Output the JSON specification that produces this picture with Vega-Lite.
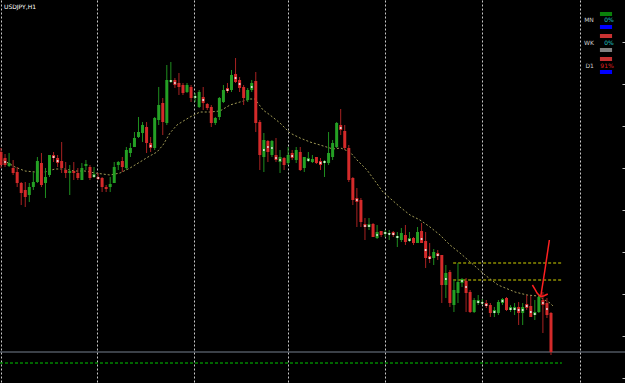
{
  "$schema": "https://vega.github.io/schema/vega-lite/v6.json",
  "width": 625,
  "height": 383,
  "autosize": {"type": "none"},
  "padding": 0,
  "background": "#000000",
  "config": {"view": {"stroke": null}},
  "datasets": {
    "candles": [
      {"t":0,"o":248,"h":252,"l":232,"c":235},{"t":1,"o":242,"h":246,"l":233,"c":235},{"t":2,"o":234,"h":247,"l":233,"c":237},{"t":3,"o":232,"h":240,"l":225,"c":227},
      {"t":4,"o":228,"h":233,"l":213,"c":217},{"t":5,"o":217,"h":218,"l":195,"c":207},{"t":6,"o":210,"h":218,"l":193,"c":203},{"t":7,"o":205,"h":217,"l":198,"c":213},
      {"t":8,"o":213,"h":228,"l":210,"c":218},{"t":9,"o":218,"h":243,"l":217,"c":239},{"t":10,"o":237,"h":247,"l":213,"c":215},{"t":11,"o":217,"h":232,"l":202,"c":223},
      {"t":12,"o":225,"h":245,"l":223,"c":245},{"t":13,"o":245,"h":248,"l":238,"c":242},{"t":14,"o":242,"h":245,"l":233,"c":237},{"t":15,"o":239,"h":258,"l":227,"c":232},
      {"t":16,"o":230,"h":238,"l":222,"c":227},{"t":17,"o":227,"h":235,"l":205,"c":229},{"t":18,"o":229,"h":238,"l":220,"c":227},{"t":19,"o":227,"h":232,"l":220,"c":222},
      {"t":20,"o":220,"h":237,"l":220,"c":232},{"t":21,"o":234,"h":240,"l":230,"c":236},{"t":22,"o":233,"h":235,"l":220,"c":222},{"t":23,"o":223,"h":233,"l":222,"c":226},
      {"t":24,"o":223,"h":227,"l":220,"c":221},{"t":25,"o":222,"h":223,"l":208,"c":213},{"t":26,"o":213,"h":215,"l":208,"c":211},{"t":27,"o":213,"h":223,"l":208,"c":216},
      {"t":28,"o":217,"h":238,"l":217,"c":233},{"t":29,"o":235,"h":239,"l":230,"c":238},{"t":30,"o":239,"h":243,"l":228,"c":233},{"t":31,"o":232,"h":253,"l":230,"c":250},
      {"t":32,"o":247,"h":257,"l":243,"c":252},{"t":33,"o":253,"h":268,"l":253,"c":262},{"t":34,"o":263,"h":283,"l":262,"c":268},{"t":35,"o":267,"h":278,"l":258,"c":275},
      {"t":36,"o":273,"h":278,"l":247,"c":257},{"t":37,"o":257,"h":263,"l":248,"c":252},{"t":38,"o":252,"h":283,"l":250,"c":282},{"t":39,"o":280,"h":313,"l":275,"c":295},
      {"t":40,"o":297,"h":302,"l":265,"c":278},{"t":41,"o":277,"h":335,"l":275,"c":320},{"t":42,"o":318,"h":338,"l":317,"c":320},{"t":43,"o":320,"h":322,"l":312,"c":315},
      {"t":44,"o":317,"h":327,"l":305,"c":313},{"t":45,"o":315,"h":317,"l":305,"c":307},{"t":46,"o":308,"h":317,"l":307,"c":315},{"t":47,"o":313,"h":315,"l":298,"c":302},
      {"t":48,"o":302,"h":307,"l":298,"c":304},{"t":49,"o":293,"h":310,"l":292,"c":308},{"t":50,"o":303,"h":313,"l":290,"c":297},{"t":51,"o":296,"h":297,"l":290,"c":292},
      {"t":52,"o":293,"h":295,"l":273,"c":277},{"t":53,"o":277,"h":283,"l":275,"c":282},{"t":54,"o":283,"h":303,"l":280,"c":302},{"t":55,"o":298,"h":315,"l":297,"c":310},
      {"t":56,"o":312,"h":317,"l":307,"c":309},{"t":57,"o":310,"h":330,"l":308,"c":325},{"t":58,"o":326,"h":342,"l":317,"c":318},{"t":59,"o":320,"h":323,"l":308,"c":312},
      {"t":60,"o":313,"h":315,"l":295,"c":302},{"t":61,"o":300,"h":312,"l":298,"c":310},{"t":62,"o":310,"h":320,"l":308,"c":317},{"t":63,"o":319,"h":328,"l":268,"c":277},
      {"t":64,"o":278,"h":280,"l":230,"c":245},{"t":65,"o":243,"h":267,"l":228,"c":260},{"t":66,"o":259,"h":260,"l":238,"c":248},{"t":67,"o":245,"h":260,"l":243,"c":259},
      {"t":68,"o":245,"h":262,"l":238,"c":240},{"t":69,"o":238,"h":250,"l":227,"c":243},{"t":70,"o":242,"h":243,"l":230,"c":235},{"t":71,"o":237,"h":253,"l":235,"c":245},
      {"t":72,"o":247,"h":250,"l":240,"c":242},{"t":73,"o":240,"h":253,"l":237,"c":250},{"t":74,"o":248,"h":253,"l":229,"c":230},{"t":75,"o":232,"h":243,"l":228,"c":243},
      {"t":76,"o":239,"h":248,"l":238,"c":242},{"t":77,"o":238,"h":245,"l":237,"c":241},{"t":78,"o":243,"h":243,"l":236,"c":237},{"t":79,"o":239,"h":242,"l":230,"c":235},
      {"t":80,"o":237,"h":240,"l":223,"c":239},{"t":81,"o":237,"h":268,"l":235,"c":247},{"t":82,"o":243,"h":260,"l":240,"c":257},{"t":83,"o":253,"h":278,"l":252,"c":277},
      {"t":84,"o":275,"h":291,"l":265,"c":270},{"t":85,"o":269,"h":275,"l":250,"c":252},{"t":86,"o":252,"h":255,"l":218,"c":220},{"t":87,"o":222,"h":223,"l":195,"c":200},
      {"t":88,"o":202,"h":212,"l":173,"c":198},{"t":89,"o":200,"h":202,"l":173,"c":178},{"t":90,"o":176,"h":182,"l":160,"c":173},{"t":91,"o":173,"h":182,"l":170,"c":176},
      {"t":92,"o":176,"h":177,"l":163,"c":163},{"t":93,"o":162,"h":175,"l":161,"c":168},{"t":94,"o":169,"h":169,"l":163,"c":165},{"t":95,"o":166,"h":170,"l":163,"c":168},
      {"t":96,"o":166,"h":170,"l":160,"c":167},{"t":97,"o":168,"h":169,"l":163,"c":165},{"t":98,"o":162,"h":168,"l":153,"c":164},{"t":99,"o":160,"h":172,"l":158,"c":167},
      {"t":100,"o":165,"h":175,"l":155,"c":158},{"t":101,"o":159,"h":168,"l":158,"c":162},{"t":102,"o":162,"h":163,"l":155,"c":157},{"t":103,"o":157,"h":173,"l":157,"c":168},
      {"t":104,"o":169,"h":177,"l":157,"c":157},{"t":105,"o":159,"h":168,"l":132,"c":142},{"t":106,"o":144,"h":157,"l":137,"c":141},{"t":107,"o":142,"h":151,"l":135,"c":148},
      {"t":108,"o":147,"h":150,"l":140,"c":144},{"t":109,"o":145,"h":145,"l":97,"c":115},{"t":110,"o":115,"h":135,"l":102,"c":127},{"t":111,"o":128,"h":130,"l":93,"c":97},
      {"t":112,"o":95,"h":120,"l":88,"c":110},{"t":113,"o":107,"h":137,"l":97,"c":118},{"t":114,"o":117,"h":122,"l":113,"c":121},{"t":115,"o":119,"h":122,"l":88,"c":107},
      {"t":116,"o":108,"h":110,"l":87,"c":88},{"t":117,"o":88,"h":102,"l":87,"c":100},{"t":118,"o":97,"h":105,"l":95,"c":100},{"t":119,"o":97,"h":101,"l":95,"c":98},
      {"t":120,"o":97,"h":100,"l":92,"c":94},{"t":121,"o":95,"h":97,"l":83,"c":87},{"t":122,"o":87,"h":93,"l":83,"c":90},{"t":123,"o":87,"h":100,"l":85,"c":98},
      {"t":124,"o":97,"h":102,"l":95,"c":101},{"t":125,"o":102,"h":103,"l":89,"c":90},{"t":126,"o":90,"h":95,"l":88,"c":93},{"t":127,"o":90,"h":97,"l":85,"c":93},
      {"t":128,"o":93,"h":98,"l":75,"c":87},{"t":129,"o":87,"h":97,"l":75,"c":93},{"t":130,"o":96,"h":105,"l":90,"c":92},{"t":131,"o":94,"h":104,"l":83,"c":83},
      {"t":132,"o":85,"h":100,"l":80,"c":88},{"t":133,"o":88,"h":105,"l":87,"c":103},{"t":134,"o":100,"h":108,"l":67,"c":95},{"t":135,"o":97,"h":102,"l":82,"c":85},
      {"t":136,"o":87,"h":88,"l":45,"c":48}
    ],
    "dots": [
      {"t":1,"p":238},{"t":13,"p":243},{"t":14,"p":239},{"t":23,"p":224},{"t":24,"p":222},{"t":37,"p":254},{"t":42,"p":319},{"t":43,"p":317},
      {"t":48,"p":303},{"t":50,"p":300},{"t":56,"p":310},{"t":58,"p":322},{"t":59,"p":316},{"t":62,"p":313},{"t":65,"p":250},{"t":66,"p":253},
      {"t":67,"p":252},{"t":68,"p":242},{"t":69,"p":240},{"t":72,"p":244},{"t":76,"p":240},{"t":79,"p":237},{"t":80,"p":238},{"t":84,"p":272},
      {"t":88,"p":200},{"t":90,"p":174},{"t":91,"p":174},{"t":93,"p":165},{"t":95,"p":167},{"t":96,"p":166},{"t":97,"p":166},{"t":98,"p":163},
      {"t":101,"p":160},{"t":104,"p":161},{"t":105,"p":150},{"t":106,"p":142},{"t":108,"p":145},{"t":110,"p":121},{"t":114,"p":119},{"t":115,"p":113},
      {"t":118,"p":98},{"t":119,"p":97},{"t":120,"p":95},{"t":122,"p":88},{"t":124,"p":99},{"t":126,"p":91},{"t":127,"p":91},{"t":128,"p":90},
      {"t":129,"p":90},{"t":130,"p":94},{"t":131,"p":88},{"t":132,"p":86},{"t":134,"p":97},{"t":135,"p":91}
    ],
    "ma": [
      {"t":-0.25,"p":242},{"t":3.46,"p":233},{"t":5.93,"p":229},{"t":8.41,"p":228},{"t":10.88,"p":228},{"t":13.35,"p":231},{"t":15.83,"p":231},
      {"t":18.3,"p":229},{"t":20.77,"p":229},{"t":23.24,"p":227},{"t":26.95,"p":225},{"t":29.43,"p":227},{"t":31.9,"p":232},{"t":34.37,"p":238},
      {"t":36.35,"p":243},{"t":38.58,"p":248},{"t":40.06,"p":255},{"t":41.79,"p":267},{"t":43.52,"p":275},{"t":45.5,"p":280},{"t":46.74,"p":283},
      {"t":49.21,"p":288},{"t":51.68,"p":288},{"t":54.15,"p":289},{"t":56.63,"p":295},{"t":59.1,"p":298},{"t":61.57,"p":301},{"t":62.81,"p":301},
      {"t":64.79,"p":290},{"t":66.52,"p":285},{"t":68.99,"p":277},{"t":71.46,"p":267},{"t":73.94,"p":262},{"t":76.41,"p":258},{"t":78.88,"p":255},
      {"t":82.1,"p":251},{"t":84.0,"p":252},{"t":86.3,"p":248},{"t":88.03,"p":240},{"t":90.5,"p":230},{"t":94.46,"p":208},{"t":98.66,"p":193},
      {"t":101.14,"p":185},{"t":103.6,"p":180},{"t":106.08,"p":173},{"t":108.56,"p":165},{"t":111.03,"p":155},{"t":113.5,"p":147},{"t":115.48,"p":140},
      {"t":119.68,"p":125},{"t":122.9,"p":115},{"t":127.1,"p":108},{"t":130.07,"p":105},{"t":132.79,"p":104},{"t":135.76,"p":97},{"t":136.5,"p":94}
    ],
    "levels": [
      {"kind":"bid","t":-1,"t2":160,"p":48},
      {"kind":"green","t":-0.25,"t2":138.7,"p":37},
      {"kind":"yellow","t":111.8,"t2":138.7,"p":137},
      {"kind":"yellow","t":111.8,"t2":138.7,"p":120}
    ],
    "arrow": [
      {"seg":"a","i":0,"t":135.6,"p":160},{"seg":"a","i":1,"t":134.5,"p":130},{"seg":"a","i":2,"t":133.46,"p":103.3},
      {"seg":"b","i":0,"t":131.4,"p":115},{"seg":"b","i":1,"t":132.05,"p":110.7},{"seg":"b","i":2,"t":132.6,"p":106.7},{"seg":"b","i":3,"t":133.46,"p":103.3},{"seg":"b","i":4,"t":134.3,"p":104.3},{"seg":"b","i":5,"t":135.2,"p":106}
    ],
    "swatches": [
      {"sw":"green","t":148.1,"t2":151.1,"p":388,"p2":384},
      {"sw":"blue","t":148.1,"t2":151.1,"p":375,"p2":371},
      {"sw":"red","t":148.1,"t2":151.1,"p":366,"p2":362},
      {"sw":"gray","t":148.1,"t2":151.1,"p":352,"p2":348},
      {"sw":"red","t":148.1,"t2":151.1,"p":343,"p2":339},
      {"sw":"blue","t":148.1,"t2":151.1,"p":330,"p2":326}
    ],
    "labels": [
      {"kind":"tf","t":146.6,"p":380,"label":"MN"},
      {"kind":"zero","t":151.5,"p":380,"label":"0%"},
      {"kind":"tf","t":146.6,"p":357,"label":"WK"},
      {"kind":"zero","t":151.5,"p":357,"label":"0%"},
      {"kind":"tf","t":146.6,"p":334,"label":"D1"},
      {"kind":"hit","t":151.5,"p":334,"label":"91%"}
    ],
    "title": [{"t":0.74,"p":393,"label":"USDJPY,H1"}]
  },
  "layer": [
    {
      "data": {"name": "levels"},
      "transform": [{"filter": "datum.kind == 'bid'"}],
      "mark": {"type": "rule", "color": "#76808f", "strokeWidth": 1},
      "encoding": {
        "x": {"field": "t", "type": "quantitative", "scale": {"domain": [-0.247, 154.3], "nice": false, "zero": false, "padding": 0},
              "axis": {"values": [-0.12, 23.74, 47.72, 70.97, 94.96, 118.94, 143.17], "grid": true, "gridColor": "#c8c8c8", "gridDash": [2, 2], "gridWidth": 1, "labels": false, "ticks": false, "domain": false, "title": null}},
        "x2": {"field": "t2"},
        "y": {"field": "p", "type": "quantitative", "scale": {"domain": [17, 400], "nice": false, "zero": false, "padding": 0},
              "axis": {"orient": "right", "offset": -3, "values": [379, 358, 337, 316, 295, 274, 253, 232, 211, 190, 169, 148, 127, 106, 85, 64, 43, 22], "labels": false, "grid": false, "domain": false, "tickColor": "#c0c0c0", "tickSize": 3, "title": null}}
      }
    },
    {
      "data": {"name": "levels"},
      "transform": [{"filter": "datum.kind == 'green'"}],
      "mark": {"type": "rule", "color": "#00c800", "strokeWidth": 1, "strokeDash": [3, 2]},
      "encoding": {"x": {"field": "t", "type": "quantitative"}, "x2": {"field": "t2"}, "y": {"field": "p", "type": "quantitative"}}
    },
    {
      "data": {"name": "levels"},
      "transform": [{"filter": "datum.kind == 'yellow'"}],
      "mark": {"type": "rule", "color": "#d2d200", "strokeWidth": 1, "strokeDash": [3, 2]},
      "encoding": {"x": {"field": "t", "type": "quantitative"}, "x2": {"field": "t2"}, "y": {"field": "p", "type": "quantitative"}}
    },
    {
      "data": {"name": "ma"},
      "mark": {"type": "line", "color": "#a09a55", "strokeWidth": 1, "strokeDash": [2, 2]},
      "encoding": {"x": {"field": "t", "type": "quantitative"}, "y": {"field": "p", "type": "quantitative"}}
    },
    {
      "data": {"name": "candles"},
      "mark": {"type": "rule", "strokeWidth": 1},
      "encoding": {
        "x": {"field": "t", "type": "quantitative"},
        "y": {"field": "l", "type": "quantitative"},
        "y2": {"field": "h"},
        "color": {"condition": {"test": "datum.c > datum.o", "value": "#1f8f1f"}, "value": "#a82222"}
      }
    },
    {
      "data": {"name": "candles"},
      "mark": {"type": "bar", "size": 3},
      "encoding": {
        "x": {"field": "t", "type": "quantitative"},
        "y": {"field": "o", "type": "quantitative"},
        "y2": {"field": "c"},
        "color": {"condition": {"test": "datum.c > datum.o", "value": "#24a024"}, "value": "#d42a2a"}
      }
    },
    {
      "data": {"name": "dots"},
      "mark": {"type": "square", "size": 3, "color": "#f0f0f0", "opacity": 1},
      "encoding": {"x": {"field": "t", "type": "quantitative"}, "y": {"field": "p", "type": "quantitative"}}
    },
    {
      "data": {"name": "arrow"},
      "mark": {"type": "line", "color": "#ff2020", "strokeWidth": 1.5},
      "encoding": {
        "x": {"field": "t", "type": "quantitative"},
        "y": {"field": "p", "type": "quantitative"},
        "detail": {"field": "seg", "type": "nominal"},
        "order": {"field": "i", "type": "quantitative"}
      }
    },
    {
      "data": {"name": "swatches"},
      "mark": {"type": "rect"},
      "encoding": {
        "x": {"field": "t", "type": "quantitative"},
        "x2": {"field": "t2"},
        "y": {"field": "p", "type": "quantitative"},
        "y2": {"field": "p2"},
        "color": {"field": "sw", "type": "nominal", "scale": {"domain": ["green", "blue", "red", "gray"], "range": ["#0a800a", "#0000ff", "#c83232", "#808080"]}, "legend": null}
      }
    },
    {
      "data": {"name": "labels"},
      "transform": [{"filter": "datum.kind == 'tf'"}],
      "mark": {"type": "text", "align": "right", "baseline": "middle", "fontSize": 6, "font": "DejaVu Sans", "color": "#d0d0d0"},
      "encoding": {"x": {"field": "t", "type": "quantitative"}, "y": {"field": "p", "type": "quantitative"}, "text": {"field": "label"}}
    },
    {
      "data": {"name": "labels"},
      "transform": [{"filter": "datum.kind != 'tf'"}],
      "mark": {"type": "text", "align": "right", "baseline": "middle", "fontSize": 6, "font": "DejaVu Sans"},
      "encoding": {
        "x": {"field": "t", "type": "quantitative"},
        "y": {"field": "p", "type": "quantitative"},
        "text": {"field": "label"},
        "color": {"condition": {"test": "datum.kind == 'hit'", "value": "#e02020"}, "value": "#20c8c8"}
      }
    },
    {
      "data": {"name": "title"},
      "mark": {"type": "text", "align": "left", "baseline": "middle", "fontSize": 6, "font": "DejaVu Sans", "color": "#ffffff"},
      "encoding": {"x": {"field": "t", "type": "quantitative"}, "y": {"field": "p", "type": "quantitative"}, "text": {"field": "label"}}
    }
  ]
}
